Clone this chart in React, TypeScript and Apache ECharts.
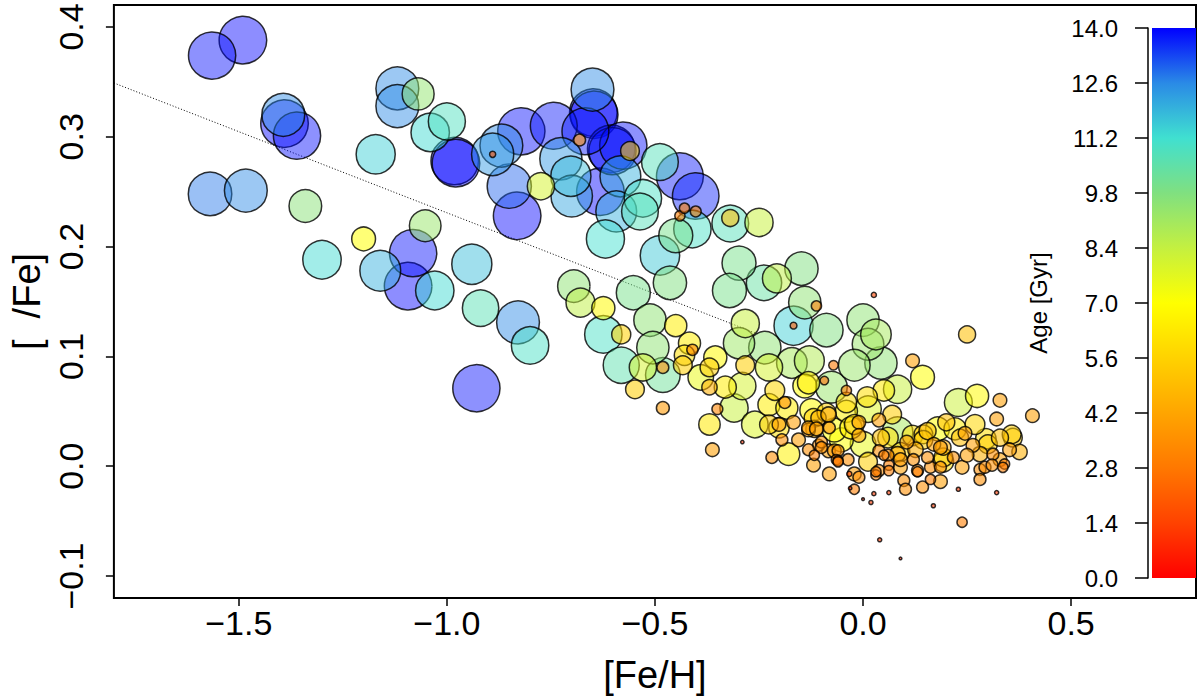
import { useEffect, useRef } from 'react';
import * as echarts from 'echarts';

// [Fe/H], [alpha/Fe], age (Gyr)
const stars: [number, number, number][] = [
  [-1.564, 0.374, 13.9], [-1.490, 0.388, 14.0], [-1.393, 0.320, 12.6], [-1.390, 0.312, 14.0],
  [-1.360, 0.301, 13.9], [-1.569, 0.248, 12.8], [-1.483, 0.251, 12.6], [-1.340, 0.237, 9.6],
  [-1.200, 0.207, 7.0], [-1.300, 0.188, 11.3], [-1.119, 0.344, 12.6], [-1.119, 0.328, 12.6],
  [-1.069, 0.339, 9.4], [-1.000, 0.314, 10.9], [-1.040, 0.304, 11.3], [-1.171, 0.284, 11.5],
  [-0.981, 0.278, 14.0], [-0.978, 0.276, 14.0], [-1.052, 0.219, 9.3], [-1.081, 0.194, 13.9],
  [-1.160, 0.178, 12.0], [-1.093, 0.164, 14.0], [-1.029, 0.160, 11.3], [-0.940, 0.184, 11.8],
  [-0.919, 0.144, 10.7], [-0.929, 0.071, 13.9], [-0.829, 0.131, 12.6], [-0.800, 0.110, 11.0],
  // upper metal-poor clump
  [-0.890, 0.284, 12.4], [-0.890, 0.284, 1.8], [-0.869, 0.292, 12.6], [-0.821, 0.305, 13.9],
  [-0.850, 0.255, 13.0], [-0.831, 0.228, 14.0], [-0.774, 0.255, 8.0], [-0.743, 0.310, 13.8],
  [-0.726, 0.280, 12.4], [-0.702, 0.264, 11.8], [-0.700, 0.246, 12.2], [-0.650, 0.343, 12.6],
  [-0.648, 0.322, 14.0], [-0.646, 0.320, 14.0], [-0.667, 0.305, 13.8], [-0.681, 0.297, 3.5],
  [-0.605, 0.289, 14.0], [-0.602, 0.287, 13.9], [-0.560, 0.287, 5.5], [-0.576, 0.292, 13.9],
  [-0.583, 0.264, 12.0], [-0.631, 0.250, 14.0], [-0.593, 0.232, 12.0], [-0.529, 0.244, 11.0],
  [-0.536, 0.232, 10.8], [-0.488, 0.277, 10.8], [-0.440, 0.264, 13.8], [-0.402, 0.246, 13.7],
  [-0.619, 0.207, 11.2], [-0.488, 0.192, 11.6], [-0.450, 0.210, 10.0], [-0.410, 0.216, 11.0],
  [-0.440, 0.228, 3.0], [-0.429, 0.235, 3.0], [-0.402, 0.232, 3.2], [-0.319, 0.221, 10.8],
  [-0.319, 0.226, 5.0], [-0.250, 0.222, 8.3], [-0.298, 0.185, 10.0], [-0.321, 0.160, 10.0],
  [-0.238, 0.167, 10.4], [-0.148, 0.180, 9.8], [-0.695, 0.164, 9.5], [-0.679, 0.149, 8.5],
  [-0.624, 0.144, 6.8], [-0.552, 0.158, 10.0], [-0.512, 0.133, 9.5], [-0.464, 0.167, 9.8],
  [-0.450, 0.128, 6.5], [-0.283, 0.130, 8.3], [-0.167, 0.128, 11.5], [-0.167, 0.128, 2.0],
  [-0.624, 0.120, 11.0], [-0.581, 0.120, 5.6], [-0.207, 0.171, 8.5], [-0.140, 0.149, 9.5],
  [-0.112, 0.146, 3.0], [-0.088, 0.124, 9.8],
  // transition zone
  [-0.505, 0.108, 9.5], [-0.581, 0.092, 10.6], [-0.529, 0.090, 8.0], [-0.481, 0.090, 3.5],
  [-0.481, 0.083, 10.2], [-0.548, 0.070, 5.5], [-0.481, 0.053, 3.8], [-0.417, 0.112, 6.5],
  [-0.410, 0.106, 3.3], [-0.429, 0.101, 6.0], [-0.390, 0.081, 7.5], [-0.355, 0.099, 6.8],
  [-0.369, 0.090, 5.5], [-0.369, 0.038, 6.3], [-0.362, 0.015, 4.0], [-0.310, 0.053, 8.3],
  [-0.331, 0.072, 6.5], [-0.290, 0.073, 8.0], [-0.283, 0.092, 5.5], [-0.260, 0.038, 7.8],
  [-0.290, 0.022, 1.0], [-0.298, 0.112, 9.2], [-0.236, 0.108, 9.5], [-0.226, 0.090, 8.0],
  [-0.212, 0.069, 5.8], [-0.226, 0.056, 6.5], [-0.188, 0.058, 3.5], [-0.226, 0.038, 5.5],
  [-0.202, 0.038, 4.0], [-0.195, 0.024, 3.5], [-0.179, 0.011, 6.6], [-0.219, 0.008, 3.5],
  [-0.171, 0.094, 9.0], [-0.140, 0.073, 7.0], [-0.071, 0.092, 2.8], [-0.093, 0.078, 2.5],
  [-0.076, 0.072, 9.3], [-0.124, 0.051, 6.8], [-0.107, 0.044, 4.5], [-0.083, 0.047, 4.5],
  [-0.119, 0.001, 4.0], [-0.081, -0.007, 4.0], [-0.052, 0.024, 7.0], [-0.083, 0.014, 4.0],
  [-0.107, 0.019, 3.5], [-0.060, 0.014, 3.5], [-0.064, 0.006, 3.0], [-0.033, -0.007, 1.5],
  [-0.031, -0.020, 1.0], [-0.369, 0.072, 4.5], [-0.433, 0.092, 5.5], [-0.350, 0.052, 3.2],
  [-0.202, 0.035, 6.0], [-0.167, 0.040, 4.0], [-0.183, 0.053, 6.5], [-0.155, 0.024, 4.0],
  [-0.131, 0.033, 4.0],
  // solar neighbourhood
  [0.000, 0.133, 9.5], [0.031, 0.120, 9.0], [0.012, 0.111, 9.3], [-0.021, 0.092, 9.3],
  [0.043, 0.094, 9.5], [0.026, 0.156, 1.5], [-0.129, 0.096, 8.8], [-0.040, 0.069, 3.0],
  [0.119, 0.096, 4.0], [0.083, 0.070, 8.3], [0.050, 0.069, 6.3], [0.250, 0.120, 5.0],
  [0.143, 0.081, 7.0], [0.229, 0.058, 8.2], [0.274, 0.064, 6.8], [0.329, 0.060, 4.0],
  [0.407, 0.046, 4.0], [0.321, 0.043, 4.0], [0.083, 0.031, 9.0], [0.360, 0.026, 5.5],
  [0.357, 0.029, 5.5], [0.221, 0.034, 6.5], [0.269, 0.038, 5.8], [0.300, 0.020, 5.5],
  [-0.131, 0.076, 6.5], [-0.119, 0.044, 5.5], [-0.131, 0.035, 4.0], [-0.112, 0.034, 4.0],
  [-0.081, 0.035, 3.5], [-0.100, 0.022, 3.5], [-0.131, 0.015, 3.5], [-0.117, 0.010, 3.0],
  [-0.060, 0.005, 3.0], [-0.021, 0.038, 5.8], [-0.010, 0.040, 4.0], [-0.010, 0.028, 4.0],
  [0.000, 0.020, 7.5], [0.012, 0.052, 7.8], [0.038, 0.042, 4.0], [0.038, 0.014, 3.5],
  [0.083, 0.011, 4.5], [0.050, 0.010, 3.0], [0.062, 0.001, 3.0], [0.090, -0.001, 4.0],
  [-0.021, -0.007, 4.0], [-0.010, -0.010, 3.5], [-0.021, -0.021, 3.0], [0.031, -0.008, 3.0],
  [0.098, -0.013, 3.5], [0.102, -0.021, 3.5], [0.126, 0.015, 4.5], [0.145, 0.029, 5.5],
  [0.131, -0.005, 3.0], [0.143, -0.019, 3.5], [0.162, -0.001, 3.5], [0.162, -0.012, 3.0],
  [0.193, 0.017, 4.5], [0.193, 0.008, 5.5], [0.186, -0.014, 4.0], [0.229, -0.021, 1.2],
  [0.217, 0.008, 3.5], [0.238, -0.001, 4.0], [0.264, 0.019, 4.0], [0.281, 0.011, 4.5],
  [0.281, -0.003, 3.5], [0.281, -0.012, 3.5], [0.312, 0.011, 3.5], [0.329, 0.006, 4.0],
  [0.340, 0.002, 3.0], [0.321, -0.024, 1.2], [0.169, -0.036, 1.2], [0.026, -0.025, 1.2],
  [0.019, -0.033, 1.2], [0.000, -0.030, 0.8], [0.062, -0.024, 1.2], [0.238, -0.051, 3.0],
  [0.040, -0.067, 1.2], [0.090, -0.084, 0.8], [-0.069, 0.033, 7.0], [0.119, 0.028, 6.0],
  [0.155, 0.032, 5.0], [0.295, 0.025, 6.0], [0.010, 0.063, 6.0], [-0.040, 0.050, 6.5],
  [0.070, 0.047, 5.5], [0.105, 0.022, 4.0], [0.060, 0.026, 6.0], [0.170, 0.020, 4.0],
  [0.245, 0.030, 4.0], [0.200, 0.040, 5.0], [-0.088, 0.049, 5.5], [-0.117, 0.034, 5.0],
  [0.145, 0.024, 5.5], [0.179, 0.034, 7.0], [0.186, 0.017, 4.0], [0.193, 0.004, 6.0],
  [0.250, 0.010, 4.0], [0.293, -0.001, 3.5], [0.310, 0.001, 3.5], [0.336, -0.001, 3.0],
  [0.155, 0.008, 3.5], [0.121, 0.006, 3.5], [0.090, 0.013, 5.5], [0.060, 0.010, 3.5],
  [0.038, -0.004, 3.5], [0.012, 0.004, 5.5], [0.062, -0.004, 3.0], [0.131, -0.004, 3.5],
  [0.186, -0.001, 3.5], [-0.100, 0.017, 3.5], [-0.069, 0.014, 4.0], [-0.060, 0.004, 3.0],
  [-0.036, 0.006, 3.5], [0.031, -0.005, 3.0], [0.090, 0.006, 4.0], [-0.040, 0.058, 6.0],
  [-0.029, 0.035, 6.5], [0.043, 0.026, 5.0], [0.233, 0.026, 5.0], [0.329, 0.026, 5.0],
  [0.352, 0.015, 4.0], [0.376, 0.013, 4.5],
];

const fehTicks = [-1.5, -1.0, -0.5, 0.0, 0.5];
const alphaTicks = [-0.1, 0.0, 0.1, 0.2, 0.3, 0.4];
const ageTicks = [0, 1.4, 2.8, 4.2, 5.6, 7.0, 8.4, 9.8, 11.2, 12.6, 14.0];
// colour at each age tick, bottom to top of the colour bar
const ageColors = [
  '#ff0000', '#ff4200', '#ff7800', '#ffa500', '#ffd200', '#ffff00',
  '#c4f040', '#80e080', '#40e0d0', '#2a8ae6', '#0000ff',
];

// dotted trend line
const fitFeh = [-1.8, -0.25];
const fitAlpha = [0.349, 0.12];

const font = "'Liberation Sans', Arial, Helvetica, sans-serif";
const fmt = (v: number) => v.toFixed(1).replace('-', '\u2212');

const App = () => {
  const chartRef = useRef<HTMLDivElement>(null);

  useEffect(() => {
    const chart = echarts.init(chartRef.current, null, { renderer: 'svg' });

    // small stars drawn last so they stay on top
    const points = [...stars].sort((a, b) => b[2] - a[2]);

    chart.setOption({
      animation: false,
      textStyle: { fontFamily: font, color: '#000' },
      grid: [
        { left: 107, top: 5, width: 1089, height: 595, show: true, borderColor: '#000', borderWidth: 2, backgroundColor: 'transparent' },
        { left: 1152, top: 28, width: 44, height: 550 },
      ],
      visualMap: {
        show: false,
        seriesIndex: 0,
        dimension: 2,
        min: 0,
        max: 14,
        inRange: { color: ageColors, colorAlpha: [0.78, 0.56] },
      },
      xAxis: [
        {
          type: 'value',
          gridIndex: 0,
          min: -1.8,
          max: 0.8,
          name: '[Fe/H]',
          nameLocation: 'middle',
          nameGap: 58,
          nameTextStyle: { fontSize: 38, color: '#000', fontFamily: font },
          axisLine: { show: false, onZero: false },
          splitLine: { show: false },
          axisTick: { show: true, length: 8, customValues: fehTicks, lineStyle: { color: '#000', width: 1.5 } },
          axisLabel: { customValues: fehTicks, formatter: fmt, fontSize: 34, color: '#000', margin: 8, fontFamily: font },
        },
        { type: 'value', gridIndex: 1, min: 0, max: 1, show: false },
      ],
      yAxis: [
        {
          type: 'value',
          gridIndex: 0,
          min: -0.12,
          max: 0.42,
          name: '[  /Fe]',
          nameLocation: 'middle',
          nameRotate: 90,
          nameGap: 66,
          nameTextStyle: { fontSize: 38, color: '#000', fontFamily: font },
          axisLine: { show: false, onZero: false },
          splitLine: { show: false },
          axisTick: { show: true, length: 8, customValues: alphaTicks, lineStyle: { color: '#000', width: 1.5 } },
          axisLabel: { customValues: alphaTicks, formatter: fmt, rotate: 90, fontSize: 34, color: '#000', margin: 26, fontFamily: font },
        },
        {
          type: 'value',
          gridIndex: 1,
          min: 0,
          max: 14,
          position: 'left',
          offset: 4,
          name: 'Age [Gyr]',
          nameLocation: 'middle',
          nameRotate: 90,
          nameGap: 98,
          nameTextStyle: { fontSize: 24, color: '#000', fontFamily: font },
          axisLine: { show: true, onZero: false, lineStyle: { color: '#000', width: 1.5 } },
          splitLine: { show: false },
          axisTick: { show: true, length: 13, customValues: ageTicks, lineStyle: { color: '#000', width: 1.5 } },
          axisLabel: { customValues: ageTicks, formatter: (v: number) => v.toFixed(1), fontSize: 24, color: '#000', margin: 30, fontFamily: font },
        },
      ],
      graphic: [
        {
          type: 'rect',
          shape: { x: 1152, y: 28, width: 44, height: 550 },
          style: {
            fill: new echarts.graphic.LinearGradient(
              0, 1, 0, 0,
              ageColors.map((c, i) => ({ offset: i / (ageColors.length - 1), color: c }))
            ),
          },
          z: 0,
        },
      ],
      series: [
        {
          type: 'scatter',
          xAxisIndex: 0,
          yAxisIndex: 0,
          data: points,
          symbolSize: (v: number[]) => v[2] * 3.4,
          itemStyle: { borderColor: '#000', borderWidth: 1.5 },
          z: 3,
        },
        {
          type: 'line',
          xAxisIndex: 0,
          yAxisIndex: 0,
          data: fitFeh.map((x, i) => [x, fitAlpha[i]]),
          symbol: 'none',
          lineStyle: { color: '#000', width: 1, type: [1, 2] },
          z: 2,
        },
      ],
    });

    return () => chart.dispose();
  }, []);

  return (
    <div
      ref={chartRef}
      style={{ position: 'absolute', left: 0, top: 0, width: 1200, height: 699 }}
    />
  );
};

export default App;
